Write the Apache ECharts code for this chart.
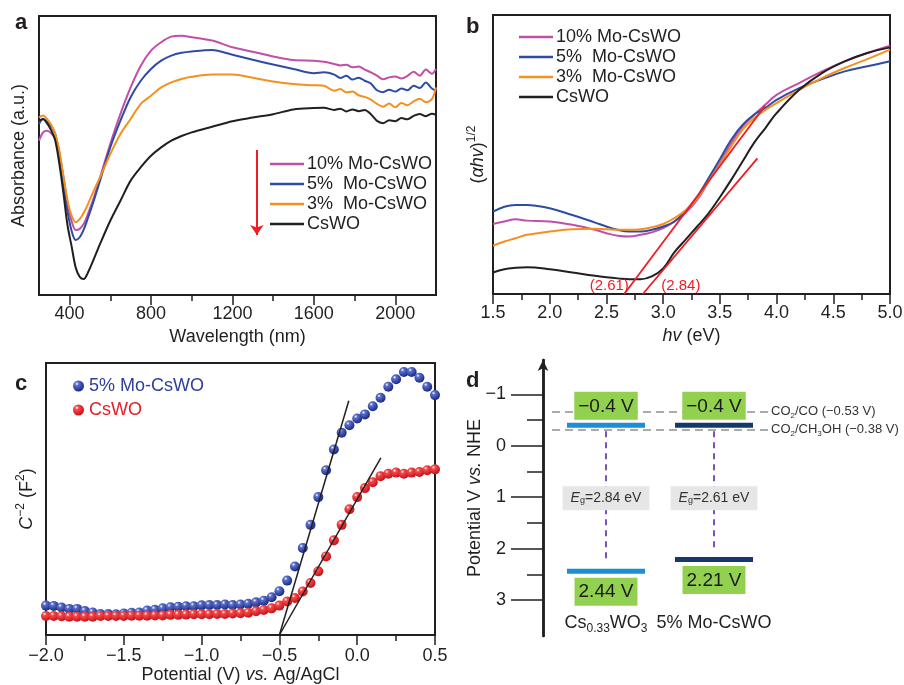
<!DOCTYPE html>
<html>
<head>
<meta charset="utf-8">
<script src="https://cdn.jsdelivr.net/npm/echarts@6/dist/echarts.min.js"></script>
<style>
html, body { margin: 0; padding: 0; background: #fff; }
#chart { width: 904px; height: 685px; }
</style>
</head>
<body>
<div id="chart"></div>
<script>
// panel a: absorbance spectra
const wavelength = [250,270,290,310,330,350,370,390,410,430,450,470,490,520,550,600,650,700,750,800,850,900,950,1000,1100,1200,1300,1400,1500,1600,1650,1700,1730,1760,1790,1820,1850,1880,1910,1940,1970,2000,2030,2060,2090,2120,2150,2180,2200];
const absMo10 = [55.3,58.3,58.9,58.0,56.0,50.5,42.5,33.0,26.5,23.3,23.7,25.5,29.0,35.0,42.2,54.1,64.9,74.4,82.2,87.6,90.6,92.6,92.9,92.4,91.2,88.8,87.2,85.5,84.2,84.0,83.6,82.8,82.3,82.5,81.6,81.9,80.8,79.8,78.6,77.3,78.0,78.3,77.6,78.5,80.0,78.6,80.8,79.3,81.0];
const absMo5 = [61.3,63.1,62.0,60.5,57.7,50.5,39.5,30.0,23.0,19.7,20.7,23.5,27.5,34.0,41.0,52.9,62.5,70.9,76.8,81.0,84.0,85.8,86.8,87.3,87.8,86.1,84.3,82.6,81.0,79.5,79.8,79.0,77.8,78.6,77.2,77.9,76.8,75.8,73.4,72.7,73.6,72.9,74.0,73.4,75.0,74.2,76.2,74.0,73.2];
const absMo3 = [63.7,64.3,63.0,61.0,57.7,51.7,42.5,34.0,28.5,26.1,27.2,29.5,32.5,37.5,42.2,50.5,57.7,63.1,68.5,71.4,74.4,76.2,77.4,78.2,79.0,79.0,77.9,76.5,75.6,75.2,75.0,73.2,73.8,72.6,72.9,71.6,71.0,70.0,68.5,67.5,68.6,67.3,68.8,68.0,69.4,70.3,69.1,70.2,74.4];
const absCsWO = [62.5,63.1,61.5,59.0,55.3,47.0,36.5,25.0,17.5,9.9,6.5,5.7,8.0,13.0,18.3,26.6,33.8,41.0,45.8,49.9,52.9,55.3,57.0,58.3,60.3,62.3,63.6,64.8,66.5,67.0,67.1,66.3,66.8,65.8,66.5,65.9,66.3,64.8,62.4,61.6,62.6,62.3,63.4,63.0,64.2,64.9,64.1,65.0,64.6];
const wlMajorTicks = [400, 800, 1200, 1600, 2000];
const wlMinorTicks = [600, 1000, 1400, 1800];
const legendArrow = [[1320, 52], [1320, 21.5]];

// panel b: Tauc plot
const photonEnergy = [1.5,1.6,1.7,1.8,2.0,2.2,2.4,2.5,2.6,2.7,2.8,2.9,3.0,3.1,3.2,3.3,3.4,3.5,3.6,3.7,3.8,3.9,4.0,4.2,4.4,4.6,4.8,5.0];
const taucMo10 = [25.1,26.0,26.8,26.3,26.0,24.8,23.0,21.8,20.9,20.6,21.2,22.1,23.6,26.0,29.2,33.7,40.3,46.9,54.1,60.0,64.2,67.8,71.4,75.6,79.8,83.4,86.4,89.0];
const taucMo5 = [29.5,31.3,31.9,31.9,30.7,28.3,25.6,24.2,23.0,22.4,22.4,23.0,24.2,26.0,29.9,34.9,41.5,48.3,55.3,60.6,64.2,66.6,69.6,73.8,77.0,79.8,81.6,83.4];
const taucMo3 = [17.3,18.8,20.0,21.2,22.4,23.2,23.4,23.2,23.0,23.0,23.2,23.9,25.1,27.2,30.1,34.3,40.3,46.3,52.9,58.9,63.0,66.0,68.4,73.2,77.4,81.0,84.2,87.6];
const taucCsWO = [7.7,8.9,9.4,9.6,8.9,7.7,6.5,6.0,5.6,5.3,5.3,6.3,9.2,15.0,19.6,24.2,28.9,34.7,40.9,47.5,54.1,59.4,64.8,73.2,79.2,83.4,86.4,88.4];
const energyMinorTicks = [1.75, 2.25, 2.75, 3.25, 3.75, 4.25, 4.75];
const fitMoX = [2.657, 3.899];
const fitMoY = [0, 67.5];
const fitCsX = [2.821, 3.831];
const fitCsY = [0, 48.6];
const bandgapText = ['(2.61)', '(2.84)'];

// panel c: Mott-Schottky
const potential = [-2.0,-1.95,-1.9,-1.85,-1.8,-1.75,-1.7,-1.65,-1.6,-1.55,-1.5,-1.45,-1.4,-1.35,-1.3,-1.25,-1.2,-1.15,-1.1,-1.05,-1.0,-0.95,-0.9,-0.85,-0.8,-0.75,-0.7,-0.65,-0.6,-0.55,-0.5,-0.45,-0.4,-0.35,-0.3,-0.25,-0.2,-0.15,-0.1,-0.05,0.0,0.05,0.1,0.15,0.2,0.25,0.3,0.35,0.4,0.45,0.5];
const msMo5 = [10.8,10.7,10.1,9.6,9.6,8.8,8.3,7.7,7.7,7.6,7.9,8.2,8.3,9.0,9.3,9.8,10.2,10.4,10.6,10.6,10.9,11.0,11.0,11.2,11.0,11.2,11.5,12.0,12.6,13.9,16.1,20.0,25.2,32.0,40.5,50.7,60.6,68.2,74.4,77.1,79.6,81.1,84.1,87.2,91.3,94.0,96.7,96.7,94.6,91.3,88.2];
const msCsWO = [7.0,7.0,6.9,6.7,6.7,6.7,6.7,7.0,7.0,7.0,7.0,7.1,7.1,7.1,7.2,7.2,7.4,7.4,7.5,7.6,7.6,7.6,7.7,7.7,7.9,8.0,8.2,8.7,9.2,9.8,10.8,12.3,13.6,16.0,19.1,23.4,28.9,34.8,40.5,46.2,50.7,54.0,56.2,58.4,59.3,59.7,59.3,59.7,59.9,60.6,60.9];
const ecMinorTicks = [-1.75, -1.25, -0.75, -0.25, 0.25];
const msFitMoX = [-0.5, -0.054];
const msFitMoY = [0, 86.1];
const msFitCsX = [-0.5, 0.152];
const msFitCsY = [0, 65.1];

// panel d: band positions
const materials = ['Cs0.33WO3', '5% Mo-CsWO'];
const materialLabels = ['Cs{s|0.33}WO{s|3}', '5% Mo-CsWO'];
const cbLevel = [-0.4, -0.4];
const vbLevel = [2.44, 2.21];
const bandGap = [2.84, 2.61];
const redoxLevel = [-0.66, -0.32];
const redoxLabel = ['CO{s|2}/CO (\u22120.53 V)', 'CO{s|2}/CH{s|3}OH (\u22120.38 V)'];
const potentialTicks = [-1, 0, 1, 2, 3];
const potentialMinorTicks = [-0.5, 0.5, 1.5, 2.5];

const sampleNames = ['10% Mo-CsWO', '5%  Mo-CsWO', '3%  Mo-CsWO', 'CsWO'];
const sampleColors = ['#c04fa8', '#2e4ca3', '#f5901e', '#231f20'];

const FONT = 'Liberation Sans';
const INK = '#231f20';
const pairs = (xs, ys) => xs.map((x, i) => [x, ys[i]]);
const minus = (v, d) => (v < 0 ? '\u2212' : '') + (d == null ? String(Math.abs(v)) : Math.abs(v).toFixed(d));

const chart = echarts.init(document.getElementById('chart'));

const tick = () => ({ show: true, inside: false, lineStyle: { color: INK, width: 1.5 } });
const edge = () => ({ show: true, onZero: false, lineStyle: { color: INK, width: 2 } });
const tickLabel = { color: INK, fontSize: 18, fontFamily: FONT };
const nameStyle = { color: INK, fontSize: 18, fontFamily: FONT, lineHeight: 24 };
const rich = {
  i: { fontStyle: 'italic', fontSize: 18, fontFamily: FONT, color: INK, lineHeight: 24 },
  sup: { fontSize: 12, fontFamily: FONT, color: INK, verticalAlign: 'top', lineHeight: 12 },
  s: { fontSize: 12, fontFamily: FONT, color: INK, verticalAlign: 'bottom', lineHeight: 12 }
};
const frame = { show: true, borderColor: INK, borderWidth: 2, backgroundColor: 'transparent', outerBoundsMode: 'none' };

// 只畫次刻度的底邊軸（不帶標籤）
const tickAxis = (gridIndex, min, max, values, length) => ({
  gridIndex, type: 'value', position: 'bottom', min, max,
  axisLine: edge(), splitLine: { show: false }, axisLabel: { show: false },
  axisTick: Object.assign(tick(), { customValues: values, length })
});

const ball = (light, mid, dark) => new echarts.graphic.RadialGradient(0.35, 0.3, 0.7, [
  { offset: 0, color: light }, { offset: 0.25, color: mid }, { offset: 1, color: dark }
]);

const abs = [absMo10, absMo5, absMo3, absCsWO];
const tauc = [taucMo10, taucMo5, taucMo3, taucCsWO];
const bandColors = ['#1b8ed6', '#15396f'];
const egLabelLevel = 1.02;

// 能帶圖
const renderBands = (params, api) => {
  const i = api.value(0);
  const cb = api.value(1);
  const vb = api.value(2);
  const top = api.coord([i, cb]);
  const bot = api.coord([i, vb]);
  const mid = api.coord([i, egLabelLevel]);
  const w = 78, h = 5;
  const boxText = {
    align: 'center', fill: '#1a1a1a', fontSize: 19, fontFamily: FONT,
    backgroundColor: '#92d050', padding: [5, 4, 4, 4]
  };
  return {
    type: 'group',
    children: [
      { type: 'line', shape: { x1: top[0], y1: top[1] + 6, x2: top[0], y2: bot[1] - 10 },
        style: { stroke: '#7b52b9', lineWidth: 2, lineDash: [6, 5] } },
      { type: 'rect', shape: { x: top[0] - w / 2, y: top[1] - h / 2, width: w, height: h }, style: { fill: bandColors[i] } },
      { type: 'rect', shape: { x: bot[0] - w / 2, y: bot[1] - h / 2, width: w, height: h }, style: { fill: bandColors[i] } },
      { type: 'text', x: top[0], y: top[1] - h / 2 - 3,
        style: Object.assign({ text: minus(cb) + ' V', verticalAlign: 'bottom' }, boxText) },
      { type: 'text', x: bot[0], y: bot[1] + h / 2 + 4,
        style: Object.assign({ text: minus(vb) + ' V', verticalAlign: 'top' }, boxText) },
      { type: 'text', x: mid[0], y: mid[1],
        style: {
          text: '{i|E}{s|g}=' + api.value(3) + ' eV', align: 'center', verticalAlign: 'middle',
          fill: '#333', fontSize: 14, fontFamily: FONT, backgroundColor: '#e6e6e6', padding: [5, 8],
          rich: {
            i: { fontStyle: 'italic', fontSize: 14, fontFamily: FONT, fill: '#333' },
            s: { fontSize: 9, fontFamily: FONT, fill: '#333', verticalAlign: 'bottom' }
          }
        } }
    ]
  };
};

const lineLegend = (top, left) => ({
  data: sampleNames, orient: 'vertical', left, top, icon: 'rect', itemWidth: 34, itemHeight: 2.5, itemGap: 2,
  selectedMode: false, padding: 0, textStyle: { fontSize: 18, lineHeight: 18, color: INK, padding: [0, 0, 0, -2] }
});

const panelTitle = (text, left, top) => ({
  text, left, top, padding: 0, textStyle: { fontSize: 22, fontWeight: 'bold', color: INK, fontFamily: FONT }
});

const option = {
  animation: false,
  backgroundColor: '#fff',
  textStyle: { fontFamily: FONT, color: INK },
  title: [
    panelTitle('a', 15, 12),
    panelTitle('b', 466, 16),
    panelTitle('c', 15, 373),
    panelTitle('d', 466, 370)
  ],
  legend: [
    lineLegend(155, 270),
    lineLegend(28, 519),
    { data: [{ name: 'C-V 5% Mo-CsWO', textStyle: { color: '#2e3f9c' } }, { name: 'C-V CsWO', textStyle: { color: '#e31e24' } }],
      orient: 'vertical', left: 73, top: 377, itemWidth: 11, itemHeight: 11, itemGap: 6, padding: 0,
      selectedMode: false, formatter: name => name.replace('C-V ', ''), textStyle: { fontSize: 18, lineHeight: 18 } }
  ],
  grid: [
    Object.assign({ left: 39, top: 16, width: 397, height: 279 }, frame),
    Object.assign({ left: 493, top: 15, width: 397, height: 279 }, frame),
    Object.assign({ left: 46, top: 363, width: 389, height: 272 }, frame),
    { left: 552, top: 360, width: 216, height: 276, show: false, outerBoundsMode: 'none' }
  ],
  xAxis: [
    { gridIndex: 0, type: 'value', position: 'bottom', min: 250, max: 2200,
      axisLine: edge(), splitLine: { show: false },
      axisTick: Object.assign(tick(), { customValues: wlMajorTicks, length: 10 }),
      axisLabel: Object.assign({ customValues: wlMajorTicks, margin: 10, formatter: v => String(v) }, tickLabel),
      name: 'Wavelength (nm)', nameLocation: 'middle', nameGap: 30, nameMoveOverlap: false, nameTextStyle: nameStyle },
    tickAxis(0, 250, 2200, wlMinorTicks, 6),
    { gridIndex: 1, type: 'value', position: 'bottom', min: 1.5, max: 5.0, interval: 0.5,
      axisLine: edge(), splitLine: { show: false },
      axisTick: Object.assign(tick(), { length: 10 }),
      axisLabel: Object.assign({ margin: 10, formatter: v => v.toFixed(1) }, tickLabel),
      name: '{i|hv} (eV)', nameLocation: 'middle', nameGap: 30, nameMoveOverlap: false, nameTextStyle: Object.assign({ rich }, nameStyle) },
    { gridIndex: 2, type: 'value', position: 'bottom', min: -2.0, max: 0.5, interval: 0.5,
      axisLine: edge(), splitLine: { show: false },
      axisTick: Object.assign(tick(), { length: 10 }),
      axisLabel: Object.assign({ margin: 12, formatter: v => minus(v, 1) }, tickLabel),
      name: 'Potential (V) {i|vs.} Ag/AgCl', nameLocation: 'middle', nameGap: 28, nameMoveOverlap: false, nameTextStyle: Object.assign({ rich }, nameStyle) },
    { gridIndex: 3, type: 'category', data: materials, offset: -27,
      axisLine: { show: false }, axisTick: { show: false }, splitLine: { show: false },
      axisLabel: { interval: 0, margin: 2, color: INK, fontSize: 18, lineHeight: 24, formatter: (v, i) => materialLabels[i], rich } },
    tickAxis(1, 1.5, 5.0, energyMinorTicks, 6),
    tickAxis(2, -2.0, 0.5, ecMinorTicks, 6)
  ],
  yAxis: [
    { gridIndex: 0, type: 'value', min: 0, max: 100, axisLine: { show: false }, axisTick: { show: false },
      axisLabel: { show: false }, splitLine: { show: false },
      name: 'Absorbance (a.u.)', nameLocation: 'middle', nameRotate: 90, nameGap: 8, nameMoveOverlap: false, nameTextStyle: nameStyle },
    { gridIndex: 1, type: 'value', min: 0, max: 100, axisLine: { show: false }, axisTick: { show: false },
      axisLabel: { show: false }, splitLine: { show: false },
      name: '({i|\u03b1hv}){sup|1/2}', nameLocation: 'middle', nameRotate: 90, nameGap: 3, nameMoveOverlap: false,
      nameTextStyle: Object.assign({ rich }, nameStyle) },
    { gridIndex: 2, type: 'value', min: 0, max: 100, axisLine: { show: false }, axisTick: { show: false },
      axisLabel: { show: false }, splitLine: { show: false },
      name: '{i|C}{sup|\u22122} (F{sup|2})', nameLocation: 'middle', nameRotate: 90, nameGap: 7, nameMoveOverlap: false,
      nameTextStyle: Object.assign({ rich }, nameStyle) },
    { gridIndex: 3, type: 'value', inverse: true, min: -1.67, max: 3.7, position: 'left', offset: 9,
      axisLine: { show: true, lineStyle: { color: INK, width: 2.5 },
        symbol: ['none', 'arrow'], symbolSize: [8, 11] },
      axisTick: Object.assign(tick(), { customValues: potentialTicks, length: 32 }),
      axisLabel: Object.assign({ customValues: potentialTicks, margin: 37, formatter: v => minus(v) }, tickLabel),
      splitLine: { show: false },
      name: 'Potential V {i|vs.} NHE', nameLocation: 'middle', nameRotate: 90, nameGap: 56, nameMoveOverlap: false,
      nameTextStyle: Object.assign({ rich }, nameStyle) },
    { gridIndex: 3, type: 'value', inverse: true, min: -1.67, max: 3.7, position: 'left', offset: 9,
      axisLine: { show: true, lineStyle: { color: INK, width: 2.5 } }, axisLabel: { show: false }, splitLine: { show: false },
      axisTick: Object.assign(tick(), { customValues: potentialMinorTicks, length: 16 }) }
  ],
  series: [
    // a
    ...sampleNames.map((name, k) => ({
      name, type: 'line', xAxisIndex: 0, yAxisIndex: 0, symbol: 'none', smooth: 0.3,
      lineStyle: { color: sampleColors[k], width: 2 }, itemStyle: { color: sampleColors[k] },
      data: pairs(wavelength, abs[k]),
      markLine: k === 3 ? {
        silent: true, symbol: ['none', 'arrow'], symbolSize: 10, label: { show: false },
        lineStyle: { color: '#ee1c24', width: 2, type: 'solid' },
        data: [[{ coord: legendArrow[0] }, { coord: legendArrow[1] }]]
      } : undefined
    })),
    // b
    ...sampleNames.map((name, k) => ({
      name, type: 'line', xAxisIndex: 2, yAxisIndex: 1, symbol: 'none', smooth: 0.4,
      lineStyle: { color: sampleColors[k], width: 2 }, itemStyle: { color: sampleColors[k] },
      data: pairs(photonEnergy, tauc[k])
    })),
    { name: 'fit 5%', type: 'line', xAxisIndex: 2, yAxisIndex: 1, symbol: 'none', z: 4,
      lineStyle: { color: '#ee1c24', width: 1.8 }, data: pairs(fitMoX, fitMoY) },
    { name: 'fit CsWO', type: 'line', xAxisIndex: 2, yAxisIndex: 1, symbol: 'none', z: 4,
      lineStyle: { color: '#ee1c24', width: 1.8 }, data: pairs(fitCsX, fitCsY) },
    { name: 'intercepts', type: 'scatter', xAxisIndex: 2, yAxisIndex: 1, symbolSize: 1, z: 5,
      itemStyle: { color: 'rgba(0,0,0,0)', opacity: 1 },
      label: { show: true, position: 'inside', color: '#ee1c24', fontSize: 15 },
      data: [
        { value: [fitMoX[0], fitMoY[0]], label: { formatter: bandgapText[0], offset: [-15, -8] } },
        { value: [fitCsX[0], fitCsY[0]], label: { formatter: bandgapText[1], offset: [38, -8] } }
      ] },
    // c
    { name: 'C-V 5% Mo-CsWO', type: 'scatter', xAxisIndex: 3, yAxisIndex: 2, symbolSize: 10,
      itemStyle: { color: ball('#ffffff', '#5a6fcc', '#1c2a82'), opacity: 1 }, data: pairs(potential, msMo5) },
    { name: 'C-V CsWO', type: 'scatter', xAxisIndex: 3, yAxisIndex: 2, symbolSize: 10,
      itemStyle: { color: ball('#ffffff', '#f54a4a', '#c8121a'), opacity: 1 }, data: pairs(potential, msCsWO) },
    { name: 'ms fit 5%', type: 'line', xAxisIndex: 3, yAxisIndex: 2, symbol: 'none', z: 4,
      lineStyle: { color: INK, width: 1.5 }, data: pairs(msFitMoX, msFitMoY) },
    { name: 'ms fit CsWO', type: 'line', xAxisIndex: 3, yAxisIndex: 2, symbol: 'none', z: 4,
      lineStyle: { color: INK, width: 1.5 }, data: pairs(msFitCsX, msFitCsY) },
    // d
    { name: 'bands', type: 'custom', xAxisIndex: 4, yAxisIndex: 3, z: 10,
      renderItem: renderBands,
      data: materials.map((m, i) => [i, cbLevel[i], vbLevel[i], bandGap[i]]),
      markLine: {
        silent: true, symbol: ['none', 'none'],
        lineStyle: { color: '#a9abae', width: 2, type: [8, 5] },
        label: { position: 'end', distance: 3, color: '#333', fontSize: 13, lineHeight: 16,
          rich: { s: { fontSize: 8, lineHeight: 10, verticalAlign: 'bottom', color: '#333' } } },
        data: redoxLevel.map((y, i) => ({ yAxis: y, label: { formatter: redoxLabel[i] } }))
      } }
  ]
};

chart.setOption(option);
</script>
</body>
</html>
